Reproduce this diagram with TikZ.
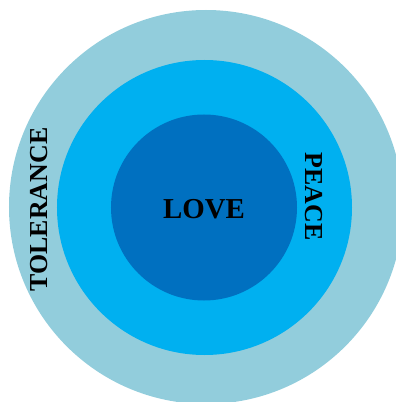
\documentclass[tikz,border=0pt]{standalone}
\usepackage{fontspec}
\setmainfont{Liberation Serif}
\definecolor{ringout}{HTML}{92CDDC}
\definecolor{ringmid}{HTML}{00B0F0}
\definecolor{ringin}{HTML}{0070C0}

\begin{document}
\begin{tikzpicture}[x=1bp, y=1bp,
  ring/.style={circle, draw=none, inner sep=0pt},
  word/.style={inner sep=0pt, anchor=base, font=\bfseries\fontsize{26}{26}\selectfont}]
\useasboundingbox (0,0) rectangle (396,402);
\clip (0,0) rectangle (396,402);
% three nested circles
\node[ring, fill=ringout, minimum size=394bp] (outer) at (206,195) {};
\node[ring, fill=ringmid, minimum size=295bp] (middle) at (204.5,194.5) {};
\node[ring, fill=ringin, minimum size=186bp] (inner) at (204,194.5) {};
% labels
\node[word, font=\bfseries\fontsize{29}{29}\selectfont] (love) at (204,184) {LOVE};
\node[word, rotate=90] (tolerance) at (47,192.5) {TOLERANCE};
\node[word, rotate=-90] (peace) at (305,205.5) {PEACE};
\end{tikzpicture}
\end{document}
